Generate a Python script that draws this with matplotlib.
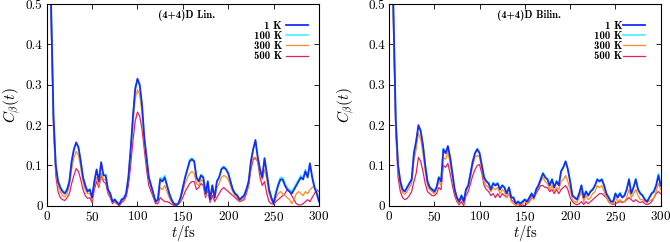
import numpy as np
import matplotlib
matplotlib.use('Agg')
from matplotlib import pyplot as plt

# time grid (fs)
t = np.linspace(0, 300, 121)

labels = ['1 K', '100 K', '300 K', '500 K']
titles = ['(4+4)D Lin.', '(4+4)D Bilin.']

lin_1 = [1.00, 0.75, 0.48, 0.22, 0.10, 0.06, 0.045, 0.035, 0.03, 0.04,
         0.06, 0.11, 0.14, 0.157, 0.145, 0.11, 0.07, 0.05, 0.035, 0.04,
         0.02, 0.06, 0.09, 0.06, 0.108, 0.075, 0.075, 0.04, 0.03, 0.01,
         0.015, 0.008, 0.003, 0.015, 0.018, 0.03, 0.07, 0.14, 0.22, 0.29,
         0.315, 0.30, 0.25, 0.17, 0.12, 0.07, 0.05, 0.03, 0.01, 0.015,
         0.065, 0.06, 0.07, 0.05, 0.03, 0.015, 0.005, 0.002, 0.005, 0.02,
         0.045, 0.07, 0.09, 0.11, 0.115, 0.11, 0.07, 0.06, 0.075, 0.07,
         0.03, 0.06, 0.015, 0.05, 0.02, 0.06, 0.07, 0.09, 0.095, 0.09,
         0.08, 0.06, 0.04, 0.03, 0.025, 0.015, 0.02, 0.025, 0.04, 0.06,
         0.11, 0.14, 0.163, 0.12, 0.09, 0.07, 0.118, 0.08, 0.04, 0.02,
         0.005, 0.03, 0.05, 0.065, 0.065, 0.05, 0.04, 0.035, 0.03, 0.04,
         0.05, 0.06, 0.07, 0.065, 0.085, 0.07, 0.105, 0.07, 0.045, 0.03,
         0.01]
lin_100 = [1.00, 0.75, 0.48, 0.22, 0.10, 0.062, 0.047, 0.037, 0.032, 0.042,
           0.062, 0.112, 0.142, 0.155, 0.143, 0.112, 0.072, 0.052, 0.037, 0.042,
           0.022, 0.062, 0.088, 0.062, 0.105, 0.078, 0.077, 0.042, 0.032, 0.012,
           0.017, 0.01, 0.005, 0.017, 0.02, 0.032, 0.072, 0.14, 0.22, 0.285,
           0.31, 0.296, 0.25, 0.17, 0.122, 0.072, 0.052, 0.032, 0.012, 0.018,
           0.07, 0.065, 0.075, 0.055, 0.032, 0.017, 0.007, 0.004, 0.007, 0.022,
           0.047, 0.072, 0.092, 0.115, 0.118, 0.112, 0.072, 0.063, 0.078, 0.072,
           0.033, 0.062, 0.017, 0.052, 0.022, 0.062, 0.072, 0.093, 0.098, 0.093,
           0.082, 0.062, 0.042, 0.032, 0.027, 0.017, 0.022, 0.027, 0.042, 0.062,
           0.11, 0.14, 0.16, 0.12, 0.092, 0.072, 0.115, 0.082, 0.042, 0.022,
           0.008, 0.035, 0.055, 0.07, 0.07, 0.055, 0.045, 0.04, 0.035, 0.045,
           0.055, 0.065, 0.075, 0.07, 0.09, 0.075, 0.105, 0.075, 0.05, 0.035,
           0.015]
lin_300 = [1.00, 0.74, 0.47, 0.21, 0.09, 0.05, 0.035, 0.025, 0.022, 0.03,
           0.05, 0.09, 0.12, 0.135, 0.125, 0.095, 0.06, 0.04, 0.03, 0.03,
           0.015, 0.05, 0.07, 0.05, 0.08, 0.065, 0.065, 0.035, 0.025, 0.008,
           0.012, 0.006, 0.002, 0.012, 0.015, 0.028, 0.065, 0.13, 0.20, 0.265,
           0.288, 0.275, 0.23, 0.16, 0.11, 0.065, 0.045, 0.025, 0.008, 0.01,
           0.045, 0.04, 0.05, 0.035, 0.02, 0.01, 0.003, 0.001, 0.004, 0.015,
           0.035, 0.055, 0.07, 0.08, 0.085, 0.08, 0.055, 0.05, 0.065, 0.06,
           0.025, 0.05, 0.012, 0.04, 0.015, 0.045, 0.055, 0.07, 0.075, 0.072,
           0.065, 0.05, 0.035, 0.025, 0.02, 0.012, 0.015, 0.02, 0.035, 0.055,
           0.10, 0.12, 0.12, 0.11, 0.085, 0.065, 0.09, 0.065, 0.03, 0.015,
           0.003, 0.02, 0.03, 0.035, 0.03, 0.025, 0.02, 0.015, 0.005, 0.015,
           0.03, 0.035, 0.03, 0.025, 0.035, 0.03, 0.04, 0.045, 0.05, 0.035,
           0.02]
lin_500 = [1.00, 0.72, 0.44, 0.19, 0.075, 0.035, 0.02, 0.015, 0.013, 0.02,
           0.03, 0.055, 0.075, 0.092, 0.085, 0.065, 0.04, 0.025, 0.018, 0.02,
           0.008, 0.04, 0.06, 0.045, 0.075, 0.06, 0.055, 0.03, 0.02, 0.005,
           0.01, 0.004, 0.0, 0.008, 0.012, 0.022, 0.05, 0.10, 0.16, 0.21,
           0.232, 0.222, 0.19, 0.14, 0.09, 0.05, 0.035, 0.02, 0.005, 0.005,
           0.02, 0.015, 0.01, 0.01, 0.008, 0.004, 0.001, 0.0, 0.003, 0.01,
           0.02, 0.035, 0.045, 0.055, 0.06, 0.06, 0.04, 0.045, 0.055, 0.05,
           0.02, 0.04, 0.008, 0.025, 0.01, 0.02, 0.03, 0.04, 0.045, 0.04,
           0.035, 0.03, 0.025, 0.02, 0.015, 0.01, 0.012, 0.015, 0.03, 0.05,
           0.09, 0.115, 0.117, 0.11, 0.07, 0.05, 0.06, 0.03, 0.01, 0.005,
           0.003, 0.01, 0.015, 0.02, 0.025, 0.03, 0.04, 0.035, 0.025, 0.015,
           0.005, 0.002, 0.002, 0.005, 0.01, 0.015, 0.01, 0.02, 0.03, 0.04,
           0.035]

bil_1 = [1.00, 0.78, 0.47, 0.21, 0.10, 0.06, 0.04, 0.035, 0.045, 0.055,
         0.065, 0.13, 0.16, 0.20, 0.185, 0.15, 0.10, 0.06, 0.045, 0.04,
         0.035, 0.045, 0.07, 0.06, 0.14, 0.13, 0.148, 0.12, 0.08, 0.04,
         0.02, 0.01, 0.025, 0.01, 0.04, 0.05, 0.08, 0.11, 0.13, 0.14,
         0.13, 0.10, 0.07, 0.06, 0.055, 0.04, 0.055, 0.05, 0.055, 0.04,
         0.05, 0.045, 0.03, 0.045, 0.02, 0.02, 0.005, 0.01, 0.005, 0.01,
         0.015, 0.01, 0.02, 0.03, 0.02, 0.04, 0.05, 0.065, 0.08, 0.07,
         0.065, 0.05, 0.065, 0.045, 0.06, 0.05, 0.085, 0.095, 0.11, 0.09,
         0.06, 0.025, 0.02, 0.015, 0.03, 0.05, 0.02, 0.035, 0.025, 0.035,
         0.04, 0.05, 0.065, 0.06, 0.065, 0.05, 0.03, 0.02, 0.01, 0.01,
         0.03, 0.02, 0.03, 0.02, 0.025, 0.04, 0.065, 0.03, 0.045, 0.065,
         0.04, 0.03, 0.025, 0.015, 0.01, 0.02, 0.03, 0.035, 0.05, 0.075,
         0.05]
bil_100 = [1.00, 0.78, 0.47, 0.21, 0.10, 0.062, 0.042, 0.037, 0.047, 0.057,
           0.067, 0.132, 0.162, 0.198, 0.186, 0.152, 0.102, 0.062, 0.047, 0.042,
           0.037, 0.047, 0.072, 0.062, 0.142, 0.132, 0.146, 0.122, 0.082, 0.042,
           0.022, 0.012, 0.027, 0.012, 0.042, 0.052, 0.082, 0.112, 0.133, 0.142,
           0.133, 0.102, 0.072, 0.062, 0.057, 0.043, 0.058, 0.053, 0.057, 0.042,
           0.052, 0.047, 0.032, 0.047, 0.022, 0.022, 0.007, 0.012, 0.007, 0.012,
           0.017, 0.012, 0.022, 0.032, 0.022, 0.042, 0.053, 0.068, 0.082, 0.072,
           0.067, 0.052, 0.067, 0.047, 0.062, 0.052, 0.087, 0.097, 0.11, 0.092,
           0.062, 0.027, 0.022, 0.017, 0.032, 0.052, 0.022, 0.037, 0.027, 0.037,
           0.042, 0.052, 0.067, 0.062, 0.067, 0.052, 0.032, 0.022, 0.012, 0.012,
           0.032, 0.023, 0.033, 0.022, 0.027, 0.042, 0.068, 0.032, 0.047, 0.068,
           0.042, 0.032, 0.027, 0.017, 0.012, 0.022, 0.032, 0.037, 0.053, 0.08,
           0.055]
bil_300 = [1.00, 0.77, 0.46, 0.20, 0.09, 0.05, 0.032, 0.028, 0.035, 0.045,
           0.055, 0.11, 0.14, 0.18, 0.165, 0.13, 0.085, 0.05, 0.04, 0.035,
           0.03, 0.04, 0.06, 0.05, 0.12, 0.115, 0.135, 0.105, 0.07, 0.035,
           0.015, 0.005, 0.02, 0.005, 0.035, 0.045, 0.07, 0.10, 0.12, 0.125,
           0.12, 0.09, 0.06, 0.05, 0.045, 0.035, 0.045, 0.04, 0.045, 0.03,
           0.04, 0.035, 0.02, 0.03, 0.01, 0.005, 0.0, 0.005, 0.002, 0.005,
           0.01, 0.005, 0.015, 0.025, 0.015, 0.035, 0.045, 0.06, 0.07, 0.06,
           0.055, 0.04, 0.05, 0.035, 0.045, 0.04, 0.06, 0.065, 0.075, 0.06,
           0.04, 0.015, 0.01, 0.008, 0.02, 0.035, 0.01, 0.025, 0.015, 0.02,
           0.03, 0.035, 0.05, 0.045, 0.05, 0.035, 0.02, 0.01, 0.005, 0.005,
           0.02, 0.01, 0.015, 0.01, 0.01, 0.02, 0.04, 0.02, 0.03, 0.04,
           0.025, 0.015, 0.015, 0.01, 0.008, 0.012, 0.015, 0.02, 0.035, 0.055,
           0.04]
bil_500 = [1.00, 0.74, 0.43, 0.18, 0.07, 0.035, 0.02, 0.015, 0.018, 0.025,
           0.035, 0.06, 0.08, 0.12, 0.11, 0.085, 0.055, 0.035, 0.03, 0.025,
           0.025, 0.03, 0.045, 0.04, 0.10, 0.095, 0.105, 0.08, 0.05, 0.025,
           0.01, 0.002, 0.01, 0.0, 0.025, 0.035, 0.055, 0.075, 0.09, 0.10,
           0.102, 0.08, 0.05, 0.04, 0.035, 0.025, 0.03, 0.02, 0.03, 0.02,
           0.03, 0.025, 0.02, 0.03, 0.015, 0.01, 0.005, 0.003, 0.0, 0.002,
           0.0, 0.005, 0.01, 0.02, 0.02, 0.03, 0.04, 0.05, 0.05, 0.045,
           0.045, 0.035, 0.04, 0.03, 0.04, 0.03, 0.04, 0.045, 0.05, 0.04,
           0.02, 0.01, 0.005, 0.002, 0.005, 0.01, 0.003, 0.01, 0.005, 0.01,
           0.015, 0.02, 0.025, 0.03, 0.03, 0.025, 0.02, 0.01, 0.005, 0.003,
           0.005, 0.008, 0.01, 0.008, 0.01, 0.015, 0.02, 0.015, 0.01, 0.015,
           0.01, 0.008, 0.01, 0.005, 0.003, 0.005, 0.01, 0.02, 0.03, 0.035,
           0.03]

colors = ['#1a2cf0', '#33f0ff', '#ff8c1a', '#e0206e']
widths = [1.3, 1.1, 0.9, 0.9]

plt.rcParams['font.family'] = 'serif'
plt.rcParams['font.serif'] = ['cmr10', 'DejaVu Serif']
plt.rcParams['mathtext.fontset'] = 'cm'
plt.rcParams['axes.formatter.use_mathtext'] = True

fig = plt.figure(figsize=(6.7, 2.42), dpi=100)
ax1 = fig.add_axes([0.0697, 0.150, 0.4064, 0.833])
ax2 = fig.add_axes([0.5806, 0.150, 0.4055, 0.833])

# axes, series, title, legend x anchor, gap text-line, ylabel x
panels = [(ax1, [lin_1, lin_100, lin_300, lin_500], titles[0], 0.96, 0.4, -0.127),
          (ax2, [bil_1, bil_100, bil_300, bil_500], titles[1], 0.942, 0.05, -0.155)]

for ax, series, title, lx, gap, yl in panels:
    for i in range(3, -1, -1):
        ax.plot(t, series[i], color=colors[i], lw=widths[i], label=labels[i])
    ax.set_xlim(0, 300)
    ax.set_ylim(0, 0.5)
    ax.set_xticks([0, 50, 100, 150, 200, 250, 300])
    ax.set_yticks([0, 0.1, 0.2, 0.3, 0.4, 0.5])
    ax.set_yticklabels(['0', '0.1', '0.2', '0.3', '0.4', '0.5'])
    ax.tick_params(direction='in', top=True, right=True, length=3.5,
                   width=0.6, labelsize=9.5, pad=3)
    for sp in ax.spines.values():
        sp.set_linewidth(0.8)
    ax.set_xlabel(r'$t/\mathrm{fs}$', fontsize=10.5, va='center')
    ax.xaxis.set_label_coords(0.5, -0.135)
    ax.set_ylabel(r'$C_\beta(t)$', fontsize=11, va='center')
    ax.yaxis.set_label_coords(yl, 0.5)
    ax.text(0.515, 0.945, title, transform=ax.transAxes, ha='center',
            va='center', fontsize=7.6, family='cmb10')
    h, l = ax.get_legend_handles_labels()
    ax.legend(h[::-1], l[::-1], loc='upper right',
              bbox_to_anchor=(lx, 0.918), markerfirst=False, frameon=False,
              prop={'family': 'cmb10', 'size': 7.8}, handlelength=2.0,
              handletextpad=gap, labelspacing=0.02, borderpad=0.0,
              borderaxespad=0.0)

plt.savefig('out.png', dpi=100)
